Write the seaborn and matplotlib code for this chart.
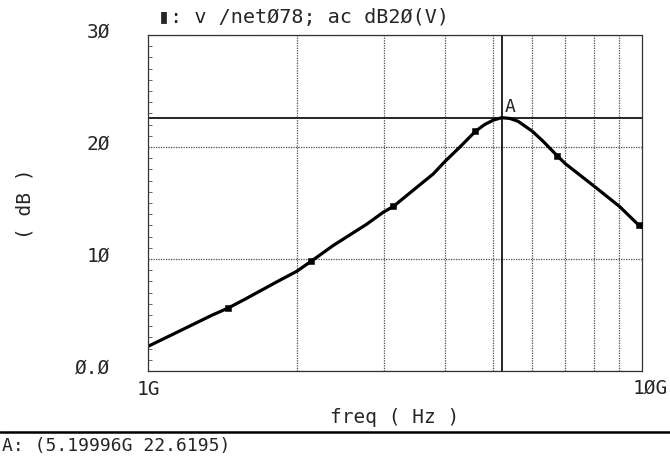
import matplotlib
matplotlib.use("Agg")
import matplotlib.pyplot as plt
import matplotlib.transforms as mtransforms
from matplotlib.ticker import FixedLocator, NullFormatter
import seaborn as sns
import pandas as pd

# ---- data ----
freq_ghz = [1.0, 1.15, 1.35, 1.45, 1.57, 1.83, 2.0, 2.14, 2.37, 2.77, 3.0, 3.14,
            3.5, 3.78, 4.0, 4.28, 4.6, 4.8, 5.0, 5.2, 5.4, 5.61, 6.0, 6.31,
            6.74, 7.0, 8.0, 9.0, 9.86, 10.0]
gain_db = [2.2, 3.5, 5.0, 5.6, 6.4, 8.0, 8.9, 9.8, 11.2, 13.1, 14.2, 14.7,
           16.4, 17.6, 18.75, 20.0, 21.4, 22.0, 22.4, 22.62, 22.55, 22.3, 21.4, 20.5,
           19.2, 18.5, 16.5, 14.7, 13.0, 12.8]
marker_ghz = [1.45, 2.14, 3.14, 4.6, 6.74, 9.86]
marker_db = [5.6, 9.8, 14.7, 21.4, 19.2, 13.0]
cursor_ghz = 5.19996
cursor_db = 22.6195
ytick_vals = [0, 10, 20, 30]
ytick_labels = ["Ø.Ø", "1Ø", "2Ø", "3Ø"]
xtick_vals_ghz = [1, 10]
xtick_labels = ["1G", "1ØG"]
xgrid_ghz = [2, 3, 4, 5, 6, 7, 8, 9]
title_text = "v /netØ78; ac dB2Ø(V)"
cursor_text = "A: (5.19996G 22.6195)"

df = pd.DataFrame({"freq": [f * 1e9 for f in freq_ghz], "db": gain_db})
dm = pd.DataFrame({"freq": [f * 1e9 for f in marker_ghz], "db": marker_db})

sns.set_theme(style="white")
plt.rcParams["font.family"] = ["DejaVu Sans Mono", "DejaVu Sans"]

fig = plt.figure(figsize=(6.7, 4.6), dpi=100)
ax = fig.add_axes([148 / 670, 1 - 372 / 460, (642 - 148) / 670, (372 - 36) / 460])

sns.lineplot(data=df, x="freq", y="db", ax=ax, color="black", linewidth=2.3)
sns.scatterplot(data=dm, x="freq", y="db", ax=ax, color="black", marker="s",
                s=22, edgecolor="black", zorder=5)

ax.set_xscale("log")
ax.set_xlim(1e9, 1e10)
ax.set_ylim(0, 30)

# grid
ax.xaxis.set_major_locator(FixedLocator([v * 1e9 for v in xtick_vals_ghz]))
ax.xaxis.set_minor_locator(FixedLocator([v * 1e9 for v in xgrid_ghz]))
ax.xaxis.set_minor_formatter(NullFormatter())
ax.set_xticklabels(xtick_labels)
ax.set_yticks(ytick_vals)
ax.set_yticklabels(ytick_labels)
ax.yaxis.set_minor_locator(FixedLocator(list(range(1, 30))))
ax.grid(True, which="minor", axis="x", color="0.3", linestyle=(0, (1, 1)), linewidth=0.9)
ax.grid(True, which="major", axis="y", color="0.3", linestyle=(0, (1, 1)), linewidth=0.9)
ax.grid(False, which="major", axis="x")

# cursor lines
ax.axvline(cursor_ghz * 1e9, color="black", linewidth=1.2)
ax.axhline(cursor_db, color="black", linewidth=1.2)
ax.annotate("A", (cursor_ghz * 1e9, cursor_db), xytext=(6, 2),
            textcoords="offset points", fontsize=13, ha="center", va="bottom")

for sp in ax.spines.values():
    sp.set_linestyle((0, (1, 1)))
    sp.set_linewidth(0.9)
    sp.set_color("0.2")

ax.tick_params(axis="y", which="major", length=0, pad=27, labelsize=14)
ax.tick_params(axis="y", which="minor", length=3, direction="in", left=True, width=0.6, color="0.3")
ax.tick_params(axis="x", which="major", length=0, pad=6, labelsize=14)
ax.tick_params(axis="x", which="minor", length=0)

offset = mtransforms.ScaledTranslation(0, 0.06, fig.dpi_scale_trans)
for lab in ax.get_yticklabels():
    lab.set_transform(lab.get_transform() + offset)
xoff = mtransforms.ScaledTranslation(0.08, 0.02, fig.dpi_scale_trans)
ax.get_xticklabels()[-1].set_transform(ax.get_xticklabels()[-1].get_transform() + xoff)

ax.set_xlabel("freq ( Hz )", fontsize=14, labelpad=6)
ax.set_ylabel("")
fig.text(25 / 670, 1 - 204 / 460, "( dB )", fontsize=14, rotation=90,
         ha="center", va="center")

fig.text(158 / 670, 1 - 18 / 460, "▮: " + title_text, fontsize=14.5, ha="left", va="center")

# bottom cursor readout
fig.add_artist(plt.Line2D([0, 1], [1 - 433 / 460, 1 - 433 / 460], color="black", linewidth=1.8,
                          transform=fig.transFigure))
fig.text(2 / 670, 1 - 446 / 460, cursor_text, fontsize=13, ha="left", va="center")

fig.savefig("out.png", dpi=100)
